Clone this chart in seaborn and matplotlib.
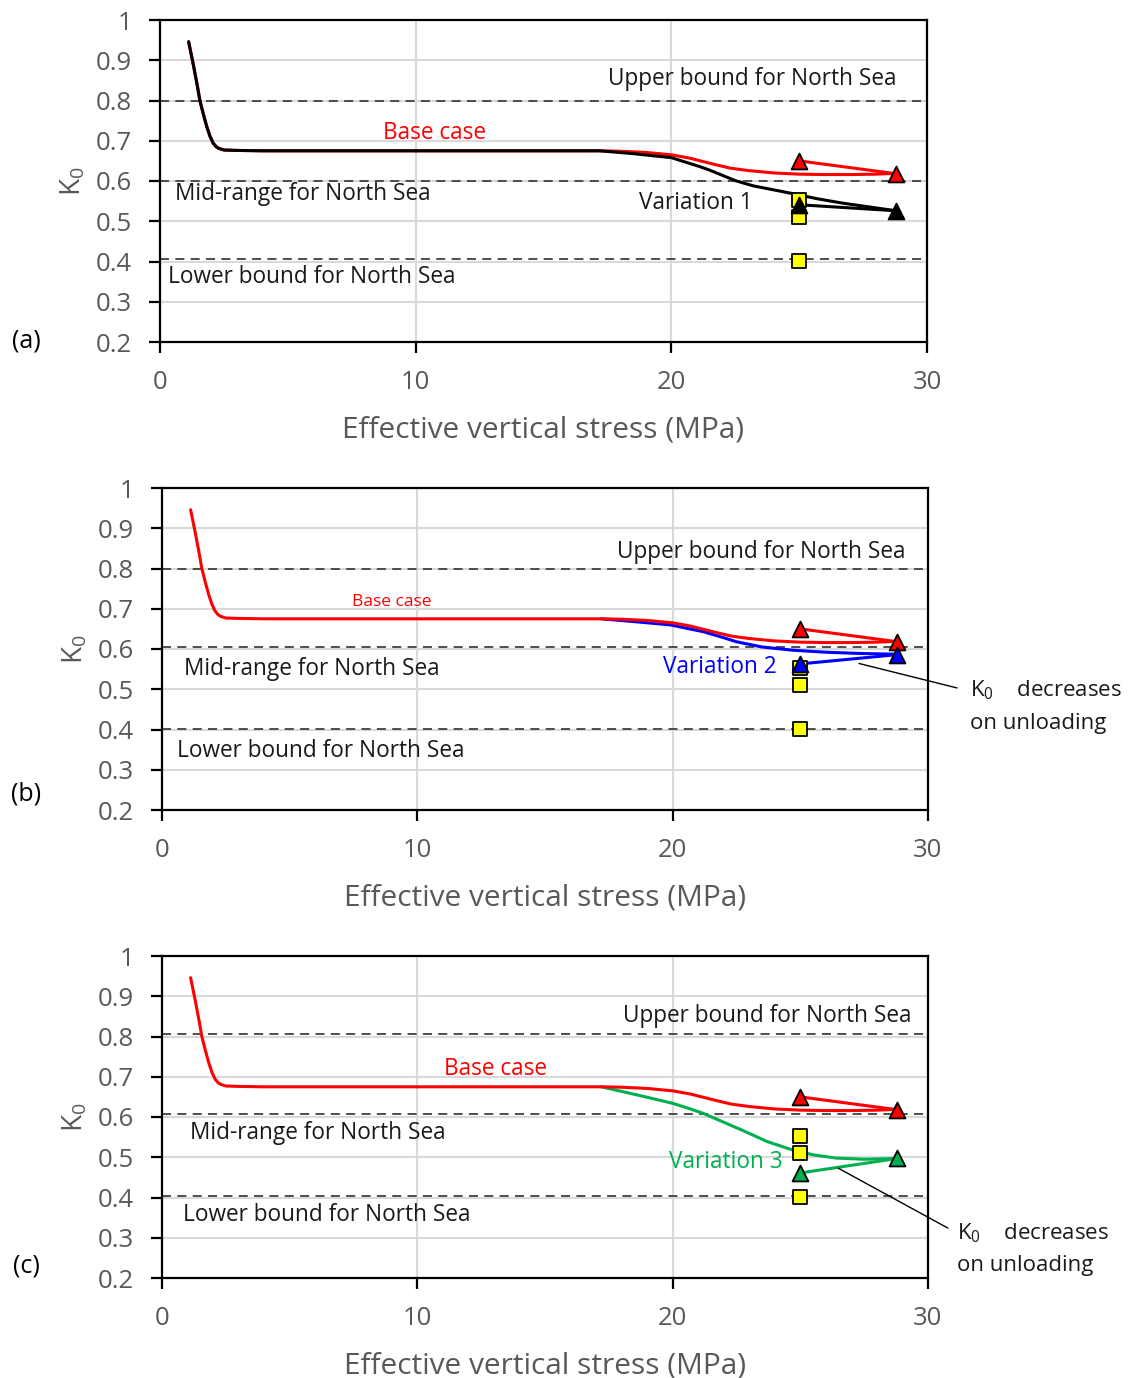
import matplotlib
matplotlib.use("Agg")
import matplotlib.pyplot as plt
import seaborn as sns

sns.set_theme(style="white")
plt.rcParams["font.family"] = ["Open Sans", "DejaVu Sans"]
plt.rcParams["mathtext.fontset"] = "custom"
plt.rcParams["mathtext.rm"] = "Open Sans"
plt.rcParams["mathtext.it"] = "Open Sans"

# ---- loading path (common to all panels) ----
stress_base = [1.12, 1.3, 1.45, 1.56, 1.7, 1.83, 1.95, 2.08, 2.2, 2.3, 2.5, 3.0, 4.0,
               10.0, 17.2, 18.0, 19.0, 20.0, 20.7, 21.2, 21.7, 22.3, 23.0, 24.0,
               25.0, 26.0, 27.0, 28.0, 28.8]
k0_base = [0.946, 0.89, 0.84, 0.80, 0.765, 0.735, 0.712, 0.694, 0.685, 0.681, 0.677,
           0.676, 0.675, 0.675, 0.675, 0.674, 0.671, 0.665, 0.657, 0.649, 0.641, 0.632,
           0.626, 0.620, 0.617, 0.616, 0.616, 0.617, 0.619]
n_shared = 15  # points before the variations branch off (up to 17.2 MPa)

# ---- variations (diverge from the base case beyond ~17 MPa) ----
stress_var1 = [17.2, 18.5, 20.0, 21.1, 21.5, 22.0, 22.5, 23.2, 24.0, 24.8, 25.7, 26.7,
               27.8, 28.8]
k0_var1 = [0.675, 0.668, 0.658, 0.636, 0.627, 0.614, 0.601, 0.588, 0.578, 0.568, 0.556,
           0.545, 0.535, 0.526]

stress_var2 = [17.2, 18.5, 19.9, 21.2, 22.0, 22.5, 23.5, 24.7, 26.0, 27.3, 28.8]
k0_var2 = [0.675, 0.668, 0.660, 0.643, 0.628, 0.618, 0.605, 0.597, 0.592, 0.589, 0.587]

stress_var3 = [17.2, 18.6, 20.0, 20.6, 21.2, 22.0, 22.8, 23.7, 24.7, 25.5, 26.4, 27.5,
               28.8]
k0_var3 = [0.675, 0.655, 0.634, 0.622, 0.609, 0.587, 0.565, 0.539, 0.518, 0.506, 0.498,
           0.495, 0.497]

# ---- unloading (28.8 -> 25 MPa) ----
stress_unload = [28.8, 25.0]
k0_unload_base = [0.618, 0.650]
k0_unload_var1 = [0.526, 0.541]
k0_unload_var2 = [0.586, 0.563]
k0_unload_var3 = [0.497, 0.461]

# ---- field measurements at 25 MPa ----
stress_field = [25.0, 25.0, 25.0]
k0_field = [0.552, 0.511, 0.401]

# ---- North Sea reference ranges ----
bounds_a = [0.80, 0.600, 0.405]
bounds_b = [0.80, 0.605, 0.401]
bounds_c = [0.805, 0.607, 0.404]
bound_names = ["Upper bound for North Sea", "Mid-range for North Sea",
               "Lower bound for North Sea"]

RED = "#FF0000"
BLUE = "#0000FF"
GREEN = "#00B050"
GREY_TXT = "#595959"
DARK_TXT = "#1A1A1A"

fig = plt.figure(figsize=(11.29, 13.78), dpi=100)
W, H = 1129, 1378


def add_axes(left, top, right, bottom):
    return fig.add_axes([left / W, 1 - bottom / H, (right - left) / W, (bottom - top) / H])


def curve(ax, x, y, color, lw=2.2, z=3):
    sns.lineplot(x=x, y=y, ax=ax, color=color, lw=lw, sort=False,
                 estimator=None, zorder=z, legend=False)


def tri(ax, x, y, color):
    sns.scatterplot(x=x, y=y, ax=ax, marker="^", s=130, color=color,
                    edgecolor="black", linewidth=1.3, zorder=6, legend=False)


def style_axis(ax, bounds):
    ax.set_xlim(0, 30)
    ax.set_ylim(0.2, 1.0)
    ax.set_xticks([0, 10, 20, 30])
    ax.set_yticks([0.2, 0.3, 0.4, 0.5, 0.6, 0.7, 0.8, 0.9, 1.0])
    ax.set_yticklabels(["0.2", "0.3", "0.4", "0.5", "0.6", "0.7", "0.8", "0.9", "1"])
    ax.grid(True, color="#D9D9D9", lw=1.5, zorder=0)
    ax.set_axisbelow(True)
    for s in ax.spines.values():
        s.set_color("black")
        s.set_linewidth(1.6)
    ax.tick_params(axis="both", direction="out", length=8, width=1.6, color="black",
                   labelsize=18.5, labelcolor=GREY_TXT, pad=12, bottom=True, left=True)
    ax.set_xlabel("Effective vertical stress (MPa)", fontsize=21.5, color=GREY_TXT,
                  labelpad=15)
    ax.set_ylabel(r"K$_0$", fontsize=20, color=GREY_TXT, labelpad=6)
    ax.hlines(bounds, 0, 29.8, colors="#404040", linestyles=(0, (5, 3.5)), lw=1.3, zorder=2)


def field_points(ax):
    sns.scatterplot(x=stress_field, y=k0_field, ax=ax, marker="s", s=110, color="#FFFF00",
                    edgecolor="black", linewidth=1.3, zorder=5, legend=False)


def note(ax, xy, line_end, pos1, pos2):
    ax.annotate("", xy=xy, xycoords="data", xytext=line_end, textcoords="axes fraction",
                arrowprops=dict(arrowstyle="-", color="black", lw=1.0, shrinkA=0, shrinkB=0),
                annotation_clip=False)
    ax.text(pos1[0], pos1[1], r"K$_0$    decreases", transform=ax.transAxes, fontsize=16,
            color=DARK_TXT, va="center", ha="left")
    ax.text(pos2[0], pos2[1], "on unloading", transform=ax.transAxes, fontsize=16,
            color=DARK_TXT, va="center", ha="left")


txt = dict(fontsize=16.3, va="center")

# ---------------- (a) ----------------
ax = add_axes(160, 20, 927, 342)
style_axis(ax, bounds_a)
curve(ax, stress_base, k0_base, RED, z=3)
curve(ax, stress_unload, k0_unload_base, RED, z=3)
curve(ax, stress_base[:n_shared] + stress_var1[1:], k0_base[:n_shared] + k0_var1[1:],
      "black", z=4)
curve(ax, stress_unload, k0_unload_var1, "black", z=4)
field_points(ax)
tri(ax, stress_unload, k0_unload_base, RED)
tri(ax, stress_unload, k0_unload_var1, "black")
ax.text(28.8, 0.853, bound_names[0], ha="right", color=DARK_TXT, **txt)
ax.text(0.59, 0.568, bound_names[1], ha="left", color=DARK_TXT, **txt)
ax.text(0.31, 0.361, bound_names[2], ha="left", color=DARK_TXT, **txt)
ax.text(10.72, 0.719, "Base case", ha="center", color=RED, **txt)
ax.text(20.96, 0.545, "Variation 1", ha="center", color=DARK_TXT, **txt)
fig.text(26 / W, 1 - 341 / H, "(a)", fontsize=18, color="black", ha="center", va="center")

# ---------------- (b) ----------------
ax = add_axes(162, 488, 928, 810)
style_axis(ax, bounds_b)
curve(ax, stress_var2, k0_var2, BLUE, z=3)
curve(ax, stress_unload, k0_unload_var2, BLUE, z=3)
curve(ax, stress_base, k0_base, RED, z=4)
curve(ax, stress_unload, k0_unload_base, RED, z=4)
field_points(ax)
tri(ax, stress_unload, k0_unload_base, RED)
tri(ax, stress_unload, k0_unload_var2, BLUE)
ax.text(29.1, 0.841, bound_names[0], ha="right", color=DARK_TXT, **txt)
ax.text(0.86, 0.550, bound_names[1], ha="left", color=DARK_TXT, **txt)
ax.text(0.59, 0.347, bound_names[2], ha="left", color=DARK_TXT, **txt)
ax.text(9.0, 0.717, "Base case", ha="center", va="center", fontsize=12.5, color=RED)
ax.text(21.86, 0.555, "Variation 2", ha="center", color=BLUE, **txt)
note(ax, (27.3, 0.564), (1.038, 0.379), (1.055, 0.373), (1.055, 0.270))
fig.text(26 / W, 1 - 794 / H, "(b)", fontsize=18, color="black", ha="center", va="center")

# ---------------- (c) ----------------
ax = add_axes(162, 956, 928, 1278)
style_axis(ax, bounds_c)
curve(ax, stress_var3, k0_var3, GREEN, z=3)
curve(ax, stress_unload, k0_unload_var3, GREEN, z=3)
curve(ax, stress_base, k0_base, RED, z=4)
curve(ax, stress_unload, k0_unload_base, RED, z=4)
field_points(ax)
tri(ax, stress_unload, k0_unload_base, RED)
tri(ax, stress_unload, k0_unload_var3, GREEN)
ax.text(29.34, 0.851, bound_names[0], ha="right", color=DARK_TXT, **txt)
ax.text(1.10, 0.560, bound_names[1], ha="left", color=DARK_TXT, **txt)
ax.text(0.82, 0.357, bound_names[2], ha="left", color=DARK_TXT, **txt)
ax.text(13.08, 0.719, "Base case", ha="center", color=RED, **txt)
ax.text(22.09, 0.488, "Variation 3", ha="center", color=GREEN, **txt)
note(ax, (26.48, 0.473), (1.026, 0.155), (1.038, 0.140), (1.038, 0.040))
fig.text(26 / W, 1 - 1266 / H, "(c)", fontsize=18, color="black", ha="center", va="center")

fig.savefig("out.png", dpi=100)
